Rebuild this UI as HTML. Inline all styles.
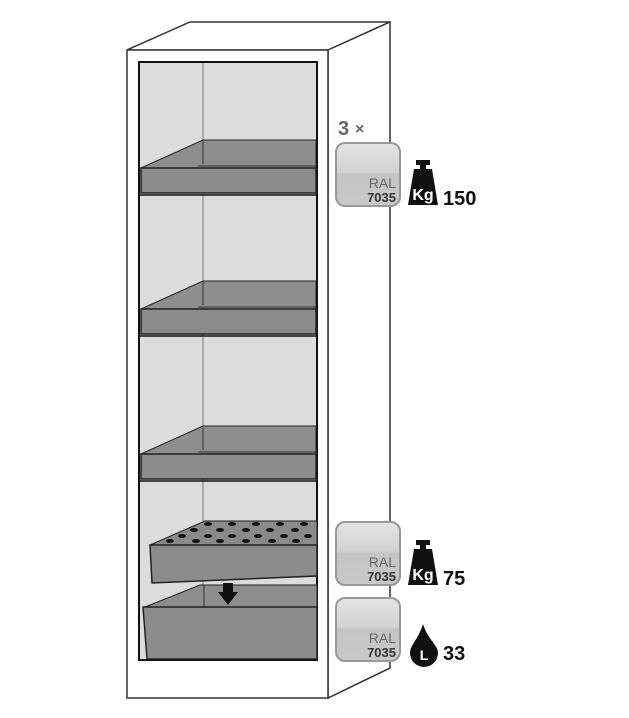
<!DOCTYPE html>
<html><head><style>
body{margin:0;background:#fff;width:629px;height:718px;overflow:hidden}
svg{display:block}
text{font-family:"Liberation Sans",sans-serif}
</style></head><body>
<svg width="629" height="718" viewBox="0 0 629 718">
<defs>
<linearGradient id="g" x1="0" y1="0" x2="0" y2="1">
<stop offset="0" stop-color="#e4e4e4"/><stop offset="0.45" stop-color="#d2d2d2"/><stop offset="0.5" stop-color="#c4c4c4"/><stop offset="1" stop-color="#c8c8c8"/></linearGradient>
</defs>
<!-- cabinet -->
<polygon points="127,50 190,22 390,22 328,50" fill="#fff" stroke="#333" stroke-width="1.5"/>
<polygon points="328,50 390,22 390,668 328,698" fill="#fff" stroke="#333" stroke-width="1.5"/>
<rect x="127" y="50" width="201" height="648" fill="#fff" stroke="#333" stroke-width="1.5"/>
<rect x="139" y="62" width="178" height="598" fill="#dcdcdc" stroke="#111" stroke-width="2"/>
<line x1="203" y1="63" x2="203" y2="659" stroke="#777" stroke-width="1"/>
<!-- shelves -->
<g id="sh">
<polygon points="141,168 203,140 316,140 316,168" fill="#8e8e8e" stroke="#222" stroke-width="1"/>
<line x1="203" y1="140" x2="203" y2="164" stroke="#333"/>
<line x1="198" y1="166" x2="316" y2="166" stroke="#333"/>
<rect x="141" y="168" width="175" height="25" fill="#8c8c8c" stroke="#222" stroke-width="1.5"/>
<line x1="139" y1="195" x2="317" y2="195" stroke="#111" stroke-width="1.5"/>
</g>
<use href="#sh" transform="translate(0,141)"/>
<use href="#sh" transform="translate(0,286)"/>
<!-- perforated tray -->
<polygon points="150,545 205,521 317,521 317,545" fill="#8a8a8a" stroke="#222"/>
<g fill="#111">
<ellipse cx="208" cy="524" rx="4" ry="2"/><ellipse cx="232" cy="524" rx="4" ry="2"/><ellipse cx="256" cy="524" rx="4" ry="2"/><ellipse cx="280" cy="524" rx="4" ry="2"/><ellipse cx="304" cy="524" rx="4" ry="2"/>
<ellipse cx="194" cy="530" rx="4" ry="2"/><ellipse cx="220" cy="530" rx="4" ry="2"/><ellipse cx="246" cy="530" rx="4" ry="2"/><ellipse cx="270" cy="530" rx="4" ry="2"/><ellipse cx="295" cy="530" rx="4" ry="2"/>
<ellipse cx="182" cy="536" rx="4" ry="2"/><ellipse cx="208" cy="536" rx="4" ry="2"/><ellipse cx="232" cy="536" rx="4" ry="2"/><ellipse cx="258" cy="536" rx="4" ry="2"/><ellipse cx="284" cy="536" rx="4" ry="2"/><ellipse cx="308" cy="536" rx="4" ry="2"/>
<ellipse cx="170" cy="541" rx="4" ry="2"/><ellipse cx="196" cy="541" rx="4" ry="2"/><ellipse cx="220" cy="541" rx="4" ry="2"/><ellipse cx="246" cy="541" rx="4" ry="2"/><ellipse cx="272" cy="541" rx="4" ry="2"/><ellipse cx="296" cy="541" rx="4" ry="2"/>
</g>
<polygon points="150,545 317,545 317,576 152,583" fill="#8c8c8c" stroke="#222" stroke-width="1.5"/>
<!-- sump -->
<polygon points="145,607 200,585 317,585 317,607" fill="#8e8e8e" stroke="#222"/>
<line x1="204" y1="585" x2="204" y2="607" stroke="#333"/>
<polygon points="143,607 317,607 317,659 147,659" fill="#8c8c8c" stroke="#222" stroke-width="1.5"/>
<polygon points="223,583 233,583 233,592 238,592 228,605 218,592 223,592" fill="#111"/>
<!-- labels -->
<text x="338" y="135" font-size="20" font-weight="bold" fill="#666">3</text>
<text x="355" y="134" font-size="16" font-weight="bold" fill="#666">×</text>
<g font-size="14" fill="#444">
<rect x="336" y="143" width="64" height="63" rx="9" fill="url(#g)" stroke="#999" stroke-width="2"/>
<text x="396" y="188" text-anchor="end" fill="#666">RAL</text>
<text x="396" y="202" text-anchor="end" font-weight="bold" fill="#333" font-size="13">7035</text>
<rect x="336" y="522" width="64" height="63" rx="9" fill="url(#g)" stroke="#999" stroke-width="2"/>
<text x="396" y="567" text-anchor="end" fill="#666">RAL</text>
<text x="396" y="581" text-anchor="end" font-weight="bold" fill="#333" font-size="13">7035</text>
<rect x="336" y="598" width="64" height="63" rx="9" fill="url(#g)" stroke="#999" stroke-width="2"/>
<text x="396" y="643" text-anchor="end" fill="#666">RAL</text>
<text x="396" y="657" text-anchor="end" font-weight="bold" fill="#333" font-size="13">7035</text>
</g>
<!-- kg icons -->
<g id="kg">
<rect x="416" y="160" width="14" height="5" fill="#111"/>
<rect x="420" y="164" width="6" height="5" fill="#111"/>
<polygon points="414,169 432,169 438,205 408,205" fill="#111"/>
<text x="423" y="200" font-size="16" font-weight="bold" fill="#fff" text-anchor="middle">Kg</text>
</g>
<text x="443" y="205" font-size="20" font-weight="bold" fill="#111">150</text>
<use href="#kg" transform="translate(0,380)"/>
<text x="443" y="585" font-size="20" font-weight="bold" fill="#111">75</text>
<path d="M423,624 C428,640 438,645 438,653 A14,14 0 0 1 410,653 C410,645 418,640 423,624 Z" fill="#111"/>
<text x="424" y="660" font-size="14" font-weight="bold" fill="#fff" text-anchor="middle">L</text>
<text x="443" y="660" font-size="20" font-weight="bold" fill="#111">33</text>
</svg>
</body></html>
